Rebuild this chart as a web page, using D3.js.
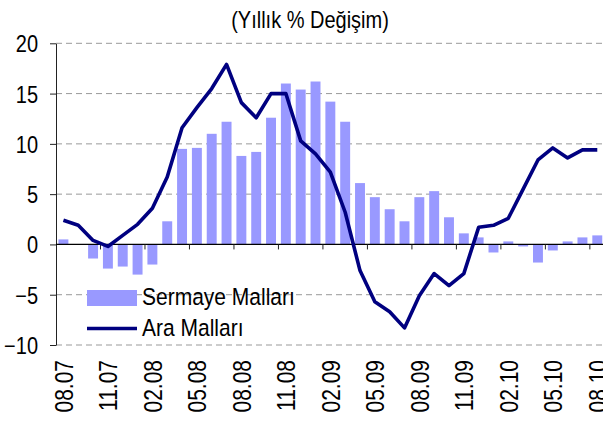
<!DOCTYPE html>
<html><head><meta charset="utf-8">
<script src="https://cdn.jsdelivr.net/npm/d3@7"></script>
<style>html,body{margin:0;padding:0;background:#fff;}svg{display:block;font-family:Arial,"Liberation Sans",sans-serif;}</style>
</head><body>
<svg id="c" width="603" height="423"></svg>
<script>
const categories = ["08.07","09.07","10.07","11.07","12.07","01.08","02.08","03.08","04.08","05.08","06.08","07.08","08.08","09.08","10.08","11.08","12.08","01.09","02.09","03.09","04.09","05.09","06.09","07.09","08.09","09.09","10.09","11.09","12.09","01.10","02.10","03.10","04.10","05.10","06.10","07.10","08.10"];
const sermayeMallari = [0.5,0.0,-1.4,-2.4,-2.2,-3.0,-2.0,2.3,9.5,9.6,11.0,12.2,8.8,9.2,12.6,16.0,15.4,16.2,14.2,12.2,6.1,4.7,3.5,2.3,4.7,5.3,2.7,1.1,0.7,-0.8,0.3,-0.2,-1.8,-0.6,0.3,0.7,0.9];
const araMallari = [2.4,1.9,0.4,-0.2,0.9,2.0,3.6,6.7,11.6,13.6,15.5,17.9,14.1,12.6,15.0,15.0,10.3,9.0,7.2,3.2,-2.6,-5.7,-6.7,-8.3,-5.1,-2.9,-4.1,-2.9,1.7,1.9,2.6,5.5,8.4,9.6,8.6,9.4,9.4];
const yTicks = [-10,-5,0,5,10,15,20];
const xLabelEvery = 3;
const title = "(Yıllık % Değişim)";
const seriesNames = ["Sermaye Malları","Ara Malları"];

(function(){
const svg = d3.select("#c");
const pl = 56, pr = 604.7, pt = 43.3, pb = 345;
const pin = 0.33;
const x = d3.scaleBand().domain(categories).range([pl, pr]).paddingInner(pin).paddingOuter(pin/2);
const y = d3.scaleLinear().domain([-10,20]).range([pb, pt]);
const step = x.step();

// gridlines
svg.append("g").selectAll("line").data(yTicks.filter(d=>d!==0)).join("line")
  .attr("x1", pl).attr("x2", 603).attr("y1", d=>y(d)).attr("y2", d=>y(d))
  .attr("stroke", "#999").attr("stroke-width", 1).attr("stroke-dasharray", "6,4");

// bars
svg.append("g").selectAll("rect").data(sermayeMallari).join("rect")
  .attr("x", (d,i)=>x(categories[i]))
  .attr("width", x.bandwidth())
  .attr("y", d=>y(Math.max(0,d)))
  .attr("height", d=>Math.abs(y(d)-y(0)))
  .attr("fill", "#9999ff");

// y axis
const yAxis = svg.append("g").attr("transform", `translate(${pl},0)`)
  .call(d3.axisLeft(y).tickValues(yTicks).tickSize(6).tickSizeOuter(0).tickFormat(d3.format("d")));
yAxis.select(".domain").attr("stroke", "#222");
yAxis.selectAll(".tick line").attr("stroke", "#222");
yAxis.selectAll("text").attr("font-size", 20).attr("fill", "#000").attr("x", -18)
  .attr("transform", "scale(1,1.17)").attr("dy", "0.36em");

// x axis at zero
const xa = svg.append("g");
xa.append("line").attr("x1", pl).attr("x2", 603).attr("y1", y(0)).attr("y2", y(0)).attr("stroke", "#000").attr("stroke-width", 1.2);
const tickIdx = d3.range(xLabelEvery, categories.length, xLabelEvery);
xa.selectAll("line.t").data(tickIdx).join("line").attr("class","t")
  .attr("x1", i=>x(categories[i]) - step*pin/2).attr("x2", i=>x(categories[i]) - step*pin/2)
  .attr("y1", y(0)).attr("y2", y(0)+5).attr("stroke", "#222");

// line
const line = d3.line().x((d,i)=>x(categories[i])+x.bandwidth()/2).y(d=>y(d));
svg.append("path").datum(araMallari).attr("d", line)
  .attr("fill", "none").attr("stroke", "#000080").attr("stroke-width", 3.6).attr("stroke-linejoin", "round");

// x labels
const labelIdx = d3.range(0, categories.length, xLabelEvery);
svg.append("g").selectAll("text").data(labelIdx).join("text")
  .attr("transform", i=>`translate(${x(categories[i])+x.bandwidth()/2},360) rotate(-90) scale(1,1.22)`)
  .attr("text-anchor", "end").attr("dy", "0.36em")
  .attr("font-size", 21).attr("fill", "#000")
  .text(i=>categories[i]);

// title
svg.append("text").attr("transform", "translate(310,28) scale(1,1.17)").attr("text-anchor", "middle")
  .attr("font-size", 20).attr("fill", "#000").text(title);

// legend
const lg = svg.append("g");
lg.append("rect").attr("x", 87).attr("y", 290).attr("width", 50).attr("height", 16).attr("fill", "#9999ff");
lg.append("line").attr("x1", 87).attr("x2", 137).attr("y1", 328.5).attr("y2", 328.5).attr("stroke", "#000080").attr("stroke-width", 3.6);
lg.append("text").attr("transform", "translate(142,305) scale(1,1.17)").attr("font-size", 21).attr("fill", "#000").text(seriesNames[0]);
lg.append("text").attr("transform", "translate(142,336) scale(1,1.17)").attr("font-size", 21).attr("fill", "#000").text(seriesNames[1]);
})();
</script>
</body></html>
